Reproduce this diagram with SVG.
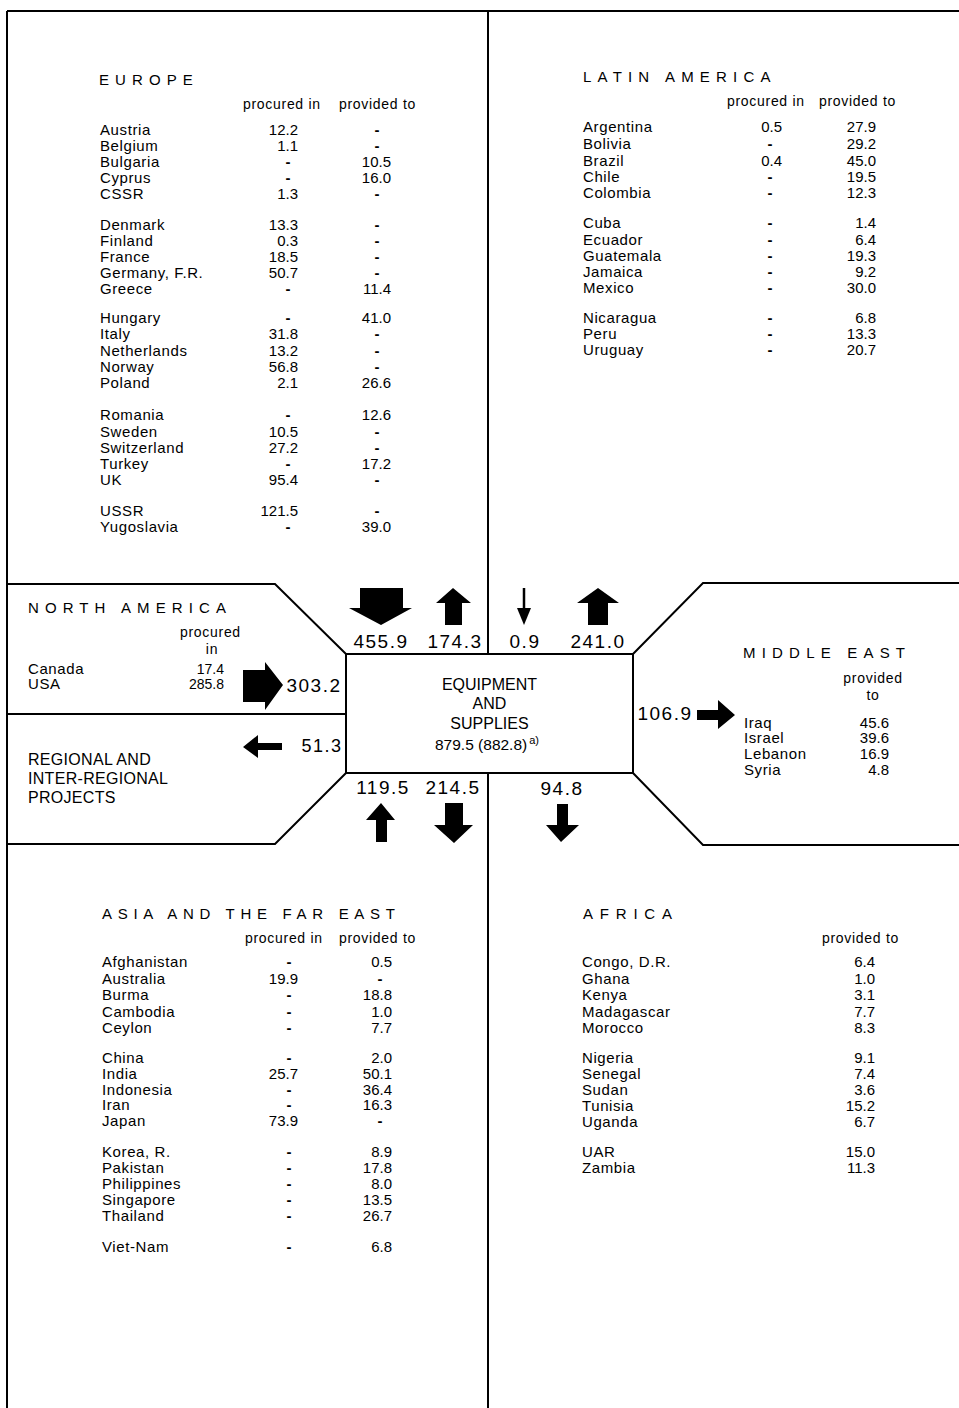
<svg xmlns="http://www.w3.org/2000/svg" width="959" height="1408" viewBox="0 0 959 1408">
<style>
text{font-family:"Liberation Sans",Arial,sans-serif;fill:#000}
.title{font-size:15px;letter-spacing:6.1px}
.hdr{font-size:14px;letter-spacing:0.7px}
.nm{font-size:15px;letter-spacing:0.6px}
.v{font-size:15px;text-anchor:end}
.d{font-size:15px;text-anchor:middle;font-weight:bold}
.sm{font-size:14px;text-anchor:end}
.lbl{font-size:19px;letter-spacing:1.5px;text-anchor:middle}
.big{font-size:16px;text-anchor:middle}
.reg{font-size:16px;letter-spacing:0.3px}
.frame{fill:none;stroke:#000;stroke-width:2}
.arr{fill:#000;stroke:none}
</style>
<rect width="959" height="1408" fill="#fff"/>
<g id="frame" class="frame">
<path d="M7,11 H959"/>
<path d="M7,11 V1408"/>
<path d="M488,11 V654"/>
<path d="M488,773 V1408"/>
<path d="M7,584 H275 L346,654"/>
<path d="M7,714 H346"/>
<path d="M346,773 L275,844 H7"/>
<path d="M633,654 L703,583 H959"/>
<path d="M633,773 L703,845 H959"/>
</g>
<g id="europe">
<text class="title" x="99" y="85">EUROPE</text>
<text class="hdr" x="243" y="109">procured in</text>
<text class="hdr" x="339" y="109">provided to</text>
<text class="nm" x="100" y="135">Austria</text><text class="v" x="298" y="135">12.2</text><text class="d" x="377" y="135">-</text>
<text class="nm" x="100" y="151">Belgium</text><text class="v" x="298" y="151">1.1</text><text class="d" x="377" y="151">-</text>
<text class="nm" x="100" y="167">Bulgaria</text><text class="d" x="288" y="167">-</text><text class="v" x="391" y="167">10.5</text>
<text class="nm" x="100" y="183">Cyprus</text><text class="d" x="288" y="183">-</text><text class="v" x="391" y="183">16.0</text>
<text class="nm" x="100" y="199">CSSR</text><text class="v" x="298" y="199">1.3</text><text class="d" x="377" y="199">-</text>
<text class="nm" x="100" y="230">Denmark</text><text class="v" x="298" y="230">13.3</text><text class="d" x="377" y="230">-</text>
<text class="nm" x="100" y="246">Finland</text><text class="v" x="298" y="246">0.3</text><text class="d" x="377" y="246">-</text>
<text class="nm" x="100" y="262">France</text><text class="v" x="298" y="262">18.5</text><text class="d" x="377" y="262">-</text>
<text class="nm" x="100" y="278">Germany, F.R.</text><text class="v" x="298" y="278">50.7</text><text class="d" x="377" y="278">-</text>
<text class="nm" x="100" y="294">Greece</text><text class="d" x="288" y="294">-</text><text class="v" x="391" y="294">11.4</text>
<text class="nm" x="100" y="323">Hungary</text><text class="d" x="288" y="323">-</text><text class="v" x="391" y="323">41.0</text>
<text class="nm" x="100" y="339">Italy</text><text class="v" x="298" y="339">31.8</text><text class="d" x="377" y="339">-</text>
<text class="nm" x="100" y="356">Netherlands</text><text class="v" x="298" y="356">13.2</text><text class="d" x="377" y="356">-</text>
<text class="nm" x="100" y="372">Norway</text><text class="v" x="298" y="372">56.8</text><text class="d" x="377" y="372">-</text>
<text class="nm" x="100" y="388">Poland</text><text class="v" x="298" y="388">2.1</text><text class="v" x="391" y="388">26.6</text>
<text class="nm" x="100" y="420">Romania</text><text class="d" x="288" y="420">-</text><text class="v" x="391" y="420">12.6</text>
<text class="nm" x="100" y="437">Sweden</text><text class="v" x="298" y="437">10.5</text><text class="d" x="377" y="437">-</text>
<text class="nm" x="100" y="453">Switzerland</text><text class="v" x="298" y="453">27.2</text><text class="d" x="377" y="453">-</text>
<text class="nm" x="100" y="469">Turkey</text><text class="d" x="288" y="469">-</text><text class="v" x="391" y="469">17.2</text>
<text class="nm" x="100" y="485">UK</text><text class="v" x="298" y="485">95.4</text><text class="d" x="377" y="485">-</text>
<text class="nm" x="100" y="516">USSR</text><text class="v" x="298" y="516">121.5</text><text class="d" x="377" y="516">-</text>
<text class="nm" x="100" y="532">Yugoslavia</text><text class="d" x="288" y="532">-</text><text class="v" x="391" y="532">39.0</text>
</g>
<g id="latin-america">
<text class="title" x="583" y="82" style="letter-spacing:6.2px">LATIN AMERICA</text>
<text class="hdr" x="727" y="106">procured in</text>
<text class="hdr" x="819" y="106">provided to</text>
<text class="nm" x="583" y="132">Argentina</text><text class="v" x="782" y="132">0.5</text><text class="v" x="876" y="132">27.9</text>
<text class="nm" x="583" y="149">Bolivia</text><text class="d" x="770" y="149">-</text><text class="v" x="876" y="149">29.2</text>
<text class="nm" x="583" y="166">Brazil</text><text class="v" x="782" y="166">0.4</text><text class="v" x="876" y="166">45.0</text>
<text class="nm" x="583" y="182">Chile</text><text class="d" x="770" y="182">-</text><text class="v" x="876" y="182">19.5</text>
<text class="nm" x="583" y="198">Colombia</text><text class="d" x="770" y="198">-</text><text class="v" x="876" y="198">12.3</text>
<text class="nm" x="583" y="228">Cuba</text><text class="d" x="770" y="228">-</text><text class="v" x="876" y="228">1.4</text>
<text class="nm" x="583" y="245">Ecuador</text><text class="d" x="770" y="245">-</text><text class="v" x="876" y="245">6.4</text>
<text class="nm" x="583" y="261">Guatemala</text><text class="d" x="770" y="261">-</text><text class="v" x="876" y="261">19.3</text>
<text class="nm" x="583" y="277">Jamaica</text><text class="d" x="770" y="277">-</text><text class="v" x="876" y="277">9.2</text>
<text class="nm" x="583" y="293">Mexico</text><text class="d" x="770" y="293">-</text><text class="v" x="876" y="293">30.0</text>
<text class="nm" x="583" y="323">Nicaragua</text><text class="d" x="770" y="323">-</text><text class="v" x="876" y="323">6.8</text>
<text class="nm" x="583" y="339">Peru</text><text class="d" x="770" y="339">-</text><text class="v" x="876" y="339">13.3</text>
<text class="nm" x="583" y="355">Uruguay</text><text class="d" x="770" y="355">-</text><text class="v" x="876" y="355">20.7</text>
</g>
<g id="north-america">
<text class="title" x="28" y="613">NORTH AMERICA</text>
<text class="hdr" x="180" y="637">procured</text>
<text class="hdr" x="212" y="654" text-anchor="middle">in</text>
<text class="nm" x="28" y="674">Canada</text><text class="sm" x="224" y="674">17.4</text>
<text class="nm" x="28" y="689">USA</text><text class="sm" x="224" y="689">285.8</text>
</g>
<g id="regional">
<text class="reg" x="28" y="765">REGIONAL AND</text>
<text class="reg" x="28" y="784">INTER-REGIONAL</text>
<text class="reg" x="28" y="803">PROJECTS</text>
</g>
<g id="equipment">
<rect class="frame" x="346" y="654" width="287" height="119"/>
<text class="big" x="489.5" y="690">EQUIPMENT</text>
<text class="big" x="489.5" y="709">AND</text>
<text class="big" x="489.5" y="729">SUPPLIES</text>
<text x="435" y="750" style="font-size:15.5px">879.5 (882.8)<tspan dx="2" dy="-6" style="font-size:11px">a)</tspan></text>
</g>
<g id="middle-east">
<text class="title" x="743" y="658" style="letter-spacing:6.2px">MIDDLE EAST</text>
<text class="hdr" x="873" y="683" text-anchor="middle">provided</text>
<text class="hdr" x="873" y="700" text-anchor="middle">to</text>
<text class="nm" x="744" y="728">Iraq</text><text class="v" x="889" y="728">45.6</text>
<text class="nm" x="744" y="743">Israel</text><text class="v" x="889" y="743">39.6</text>
<text class="nm" x="744" y="759">Lebanon</text><text class="v" x="889" y="759">16.9</text>
<text class="nm" x="744" y="775">Syria</text><text class="v" x="889" y="775">4.8</text>
</g>
<g id="asia">
<text class="title" x="102" y="919" style="letter-spacing:5.7px">ASIA AND THE FAR EAST</text>
<text class="hdr" x="245" y="943">procured in</text>
<text class="hdr" x="339" y="943">provided to</text>
<text class="nm" x="102" y="967">Afghanistan</text><text class="d" x="289" y="967">-</text><text class="v" x="392" y="967">0.5</text>
<text class="nm" x="102" y="984">Australia</text><text class="v" x="298" y="984">19.9</text><text class="d" x="380" y="984">-</text>
<text class="nm" x="102" y="1000">Burma</text><text class="d" x="289" y="1000">-</text><text class="v" x="392" y="1000">18.8</text>
<text class="nm" x="102" y="1017">Cambodia</text><text class="d" x="289" y="1017">-</text><text class="v" x="392" y="1017">1.0</text>
<text class="nm" x="102" y="1033">Ceylon</text><text class="d" x="289" y="1033">-</text><text class="v" x="392" y="1033">7.7</text>
<text class="nm" x="102" y="1063">China</text><text class="d" x="289" y="1063">-</text><text class="v" x="392" y="1063">2.0</text>
<text class="nm" x="102" y="1079">India</text><text class="v" x="298" y="1079">25.7</text><text class="v" x="392" y="1079">50.1</text>
<text class="nm" x="102" y="1095">Indonesia</text><text class="d" x="289" y="1095">-</text><text class="v" x="392" y="1095">36.4</text>
<text class="nm" x="102" y="1110">Iran</text><text class="d" x="289" y="1110">-</text><text class="v" x="392" y="1110">16.3</text>
<text class="nm" x="102" y="1126">Japan</text><text class="v" x="298" y="1126">73.9</text><text class="d" x="380" y="1126">-</text>
<text class="nm" x="102" y="1157">Korea, R.</text><text class="d" x="289" y="1157">-</text><text class="v" x="392" y="1157">8.9</text>
<text class="nm" x="102" y="1173">Pakistan</text><text class="d" x="289" y="1173">-</text><text class="v" x="392" y="1173">17.8</text>
<text class="nm" x="102" y="1189">Philippines</text><text class="d" x="289" y="1189">-</text><text class="v" x="392" y="1189">8.0</text>
<text class="nm" x="102" y="1205">Singapore</text><text class="d" x="289" y="1205">-</text><text class="v" x="392" y="1205">13.5</text>
<text class="nm" x="102" y="1221">Thailand</text><text class="d" x="289" y="1221">-</text><text class="v" x="392" y="1221">26.7</text>
<text class="nm" x="102" y="1252">Viet-Nam</text><text class="d" x="289" y="1252">-</text><text class="v" x="392" y="1252">6.8</text>
</g>
<g id="africa">
<text class="title" x="583" y="919" style="letter-spacing:6.8px">AFRICA</text>
<text class="hdr" x="822" y="943">provided to</text>
<text class="nm" x="582" y="967">Congo, D.R.</text><text class="v" x="875" y="967">6.4</text>
<text class="nm" x="582" y="984">Ghana</text><text class="v" x="875" y="984">1.0</text>
<text class="nm" x="582" y="1000">Kenya</text><text class="v" x="875" y="1000">3.1</text>
<text class="nm" x="582" y="1017">Madagascar</text><text class="v" x="875" y="1017">7.7</text>
<text class="nm" x="582" y="1033">Morocco</text><text class="v" x="875" y="1033">8.3</text>
<text class="nm" x="582" y="1063">Nigeria</text><text class="v" x="875" y="1063">9.1</text>
<text class="nm" x="582" y="1079">Senegal</text><text class="v" x="875" y="1079">7.4</text>
<text class="nm" x="582" y="1095">Sudan</text><text class="v" x="875" y="1095">3.6</text>
<text class="nm" x="582" y="1111">Tunisia</text><text class="v" x="875" y="1111">15.2</text>
<text class="nm" x="582" y="1127">Uganda</text><text class="v" x="875" y="1127">6.7</text>
<text class="nm" x="582" y="1157">UAR</text><text class="v" x="875" y="1157">15.0</text>
<text class="nm" x="582" y="1173">Zambia</text><text class="v" x="875" y="1173">11.3</text>
</g>
<g id="connectors">
<polygon class="arr" points="360,588 403,588 403,608 412,608 381,625 349,608 360,608"/>
<polygon class="arr" points="453,588 471,603 462,603 462,625 445,625 445,603 436,603"/>
<line x1="524" y1="588" x2="524" y2="611" stroke="#000" stroke-width="2.5"/>
<polygon class="arr" points="517,608 531,608 524,625"/>
<polygon class="arr" points="598,588 619,603 608,603 608,625 588,625 588,603 577,603"/>
<polygon class="arr" points="243,670 265,670 265,662 283,685 265,710 265,702 243,702"/>
<polygon class="arr" points="243,747 258,735 258,743 282,743 282,750 258,750 258,758"/>
<polygon class="arr" points="697,710 718,710 718,700 735,715 718,729 718,720 697,720"/>
<polygon class="arr" points="381,803 395,820 387,820 387,842 376,842 376,820 366,820"/>
<polygon class="arr" points="445,803 463,803 463,825 473,825 454,843 434,825 445,825"/>
<polygon class="arr" points="557,804 568,804 568,825 579,825 561,842 546,825 557,825"/>
<text class="lbl" x="381" y="648">455.9</text>
<text class="lbl" x="455" y="648">174.3</text>
<text class="lbl" x="525" y="648">0.9</text>
<text class="lbl" x="598" y="648">241.0</text>
<text class="lbl" x="314" y="692">303.2</text>
<text class="lbl" x="322" y="752" style="font-size:18px">51.3</text>
<text class="lbl" x="665" y="720">106.9</text>
<text class="lbl" x="383" y="794">119.5</text>
<text class="lbl" x="453" y="794">214.5</text>
<text class="lbl" x="562" y="795">94.8</text>
</g>
</svg>
